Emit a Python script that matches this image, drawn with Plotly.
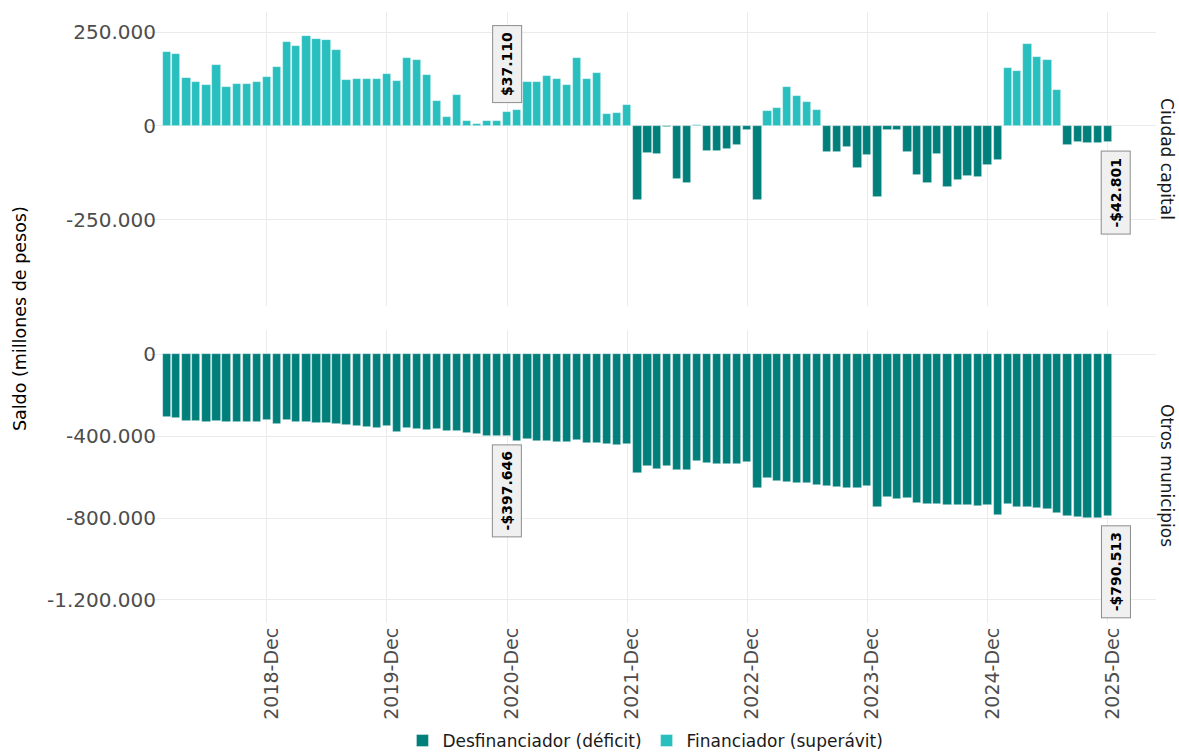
import numpy as np
import pandas as pd
import plotly.graph_objects as go

# ---------------- data ----------------
months = pd.date_range("2018-02-01", "2025-12-01", freq="MS")

ciudad_capital = [
    198200, 191950, 128600, 117900, 109800, 163400, 102700, 112500, 112500, 117000, 131300,
    156300, 225000, 212500, 239300, 231300, 229500, 203600, 121400, 125900, 125000, 125900, 139300,
    118800, 182100, 175900, 135700, 65200, 24100, 81300, 12500, 6250, 12500, 14300, 37110,
    42000, 117000, 117000, 132100, 124100, 109800, 180400, 125900, 141100, 30400, 34800, 55400,
    -197300, -72300, -75000, -3600, -142000, -151800, 1500, -67000, -67000, -62500, -50900, -10700,
    -197300, 39300, 46400, 102700, 79500, 62500, 41100, -69600, -69600, -57100, -112500, -77700,
    -189300, -10700, -10700, -69600, -132100, -153600, -74100, -162500, -144600, -133000, -137500, -105400,
    -91100, 153600, 147300, 217900, 183000, 175000, 96400, -50900, -43800, -46400, -46400, -42801,
]

otros_municipios = [
    -308100, -313000, -324400, -326000, -329300, -326000, -329300, -329300, -329300, -329300, -322700,
    -339000, -321100, -329300, -329300, -334200, -334200, -339000, -347200, -352100, -355300, -358600, -352100,
    -381400, -358600, -366800, -371600, -366800, -376500, -376500, -386300, -389600, -397700, -397700, -397646,
    -425400, -414000, -422200, -422200, -427100, -427100, -418900, -432000, -432000, -440100, -443400, -438500,
    -581900, -546000, -560700, -546000, -564000, -567200, -521600, -531400, -534600, -537900, -537900, -528100,
    -655300, -604700, -619400, -624300, -627600, -629200, -637300, -643900, -650400, -655300, -655300, -643900,
    -746500, -696000, -709100, -704200, -727000, -730200, -731900, -735100, -735100, -738400, -743300, -735100,
    -785700, -730200, -748200, -748200, -751400, -756300, -774300, -790600, -793800, -798700, -798700, -790513,
]

panels = ["Ciudad capital", "Otros municipios"]
legend_names = ["Desfinanciador (déficit)", "Financiador (superávit)"]

x_tick_dates = ["2018-12-01", "2019-12-01", "2020-12-01", "2021-12-01",
                "2022-12-01", "2023-12-01", "2024-12-01", "2025-12-01"]
x_tick_text = ["2018-Dec", "2019-Dec", "2020-Dec", "2021-Dec",
               "2022-Dec", "2023-Dec", "2024-Dec", "2025-Dec"]

top_tick_vals = [-250000, 0, 250000]
top_tick_text = ["-250.000", "0", "250.000"]
bot_tick_vals = [-1200000, -800000, -400000, 0]
bot_tick_text = ["-1.200.000", "-800.000", "-400.000", "0"]

highlight_dates = ["2020-12-01", "2025-12-01"]

# ---------------- style ----------------
DARK = "#017F7B"
LIGHT = "#28BFBE"
FONT = "DejaVu Sans"
BAR_WIDTH_MS = 25.2 * 86400000

fig = go.Figure()

series = [ciudad_capital, otros_municipios]
yaxes = ["y", "y2"]
for pi, vals in enumerate(series):
    v = np.array(vals, dtype=float)
    neg = [float(a) if a < 0 else None for a in v]
    pos = [float(a) if a >= 0 else None for a in v]
    for name, data, col in [(legend_names[0], neg, DARK), (legend_names[1], pos, LIGHT)]:
        fig.add_trace(go.Bar(
            x=months, y=data, name=name, legendgroup=name,
            showlegend=(pi == 0),
            marker=dict(color=col, line=dict(color="rgba(255,255,255,0.55)", width=0.7)),
            width=BAR_WIDTH_MS,
            xaxis="x" if pi == 0 else "x2",
            yaxis=yaxes[pi],
        ))


def fmt(v):
    s = f"{abs(int(round(v))):,}".replace(",", ".")
    return ("-$" if v < 0 else "$") + s


month_strs = [m.strftime("%Y-%m-%d") for m in months]
annotations = []
for pi, vals in enumerate(series):
    for k, d in enumerate(highlight_dates):
        idx = month_strs.index(d)
        val = vals[idx]
        annotations.append(dict(
            x=d, y=val, xref="x" if pi == 0 else "x2", yref=yaxes[pi],
            text=f"<b>{fmt(val)}</b>", textangle=-90, showarrow=False,
            xanchor="center", yanchor="bottom" if val >= 0 else "top",
            yshift=9 if val >= 0 else -9, xshift=0 if k == 0 else 8,
            font=dict(family=FONT, size=14, color="#000000"),
            bgcolor="#F0F0F0", bordercolor="#8C8C8C", borderwidth=1, borderpad=6,
        ))

annotations.append(dict(text=panels[0], xref="paper", yref="paper", x=1.0109, y=0.7594,
                        textangle=90, showarrow=False, xanchor="center", yanchor="middle",
                        font=dict(family=FONT, size=17, color="#1A1A1A")))
annotations.append(dict(text=panels[1], xref="paper", yref="paper", x=1.0109, y=0.2406,
                        textangle=90, showarrow=False, xanchor="center", yanchor="middle",
                        font=dict(family=FONT, size=17, color="#1A1A1A")))
annotations.append(dict(text="Saldo (millones de pesos)", xref="paper", yref="paper",
                        x=-0.1259, y=0.499, textangle=-90, showarrow=False,
                        xanchor="center", yanchor="middle",
                        font=dict(family=FONT, size=17.5, color="#000000")))

x_range = ["2017-12-02", "2026-04-27"]
grid = "#EBEBEB"
common_x = dict(type="date", range=x_range, tickvals=x_tick_dates, ticktext=x_tick_text,
                showgrid=True, gridcolor=grid, gridwidth=1, zeroline=False, showline=False,
                ticks="", tickangle=-90, automargin=False, ticklabelshift=5,
                tickfont=dict(family=FONT, size=19, color="#4D4D4D"))
common_y = dict(showgrid=True, gridcolor=grid, gridwidth=1, zeroline=False, showline=False,
                ticks="", ticklabelstandoff=-10, automargin=False,
                tickfont=dict(family=FONT, size=20, color="#4D4D4D"))

fig.update_layout(
    width=1179, height=752,
    margin=dict(l=147, r=23, t=12, b=129, autoexpand=False),
    paper_bgcolor="white", plot_bgcolor="white",
    barmode="overlay",
    bargap=0,
    font=dict(family=FONT, size=17, color="#1A1A1A"),
    xaxis=dict(common_x, anchor="y", showticklabels=False, matches="x2"),
    xaxis2=dict(common_x, anchor="y2"),
    yaxis=dict(common_y, domain=[0.5188, 1.0], range=[-480500, 303800],
               tickvals=top_tick_vals, ticktext=top_tick_text),
    yaxis2=dict(common_y, domain=[0.0, 0.4795], range=[-1312500, 118900],
                tickvals=bot_tick_vals, ticktext=bot_tick_text),
    legend=dict(orientation="h", x=0.494, xanchor="center", y=-0.193, yanchor="middle",
                font=dict(family=FONT, size=17, color="#1A1A1A"),
                tracegroupgap=0, bgcolor="rgba(0,0,0,0)"),
    annotations=annotations,
    showlegend=True,
)

fig.write_html("out.html", config={"displayModeBar": False},
               post_script="document.body.style.margin='0';")
